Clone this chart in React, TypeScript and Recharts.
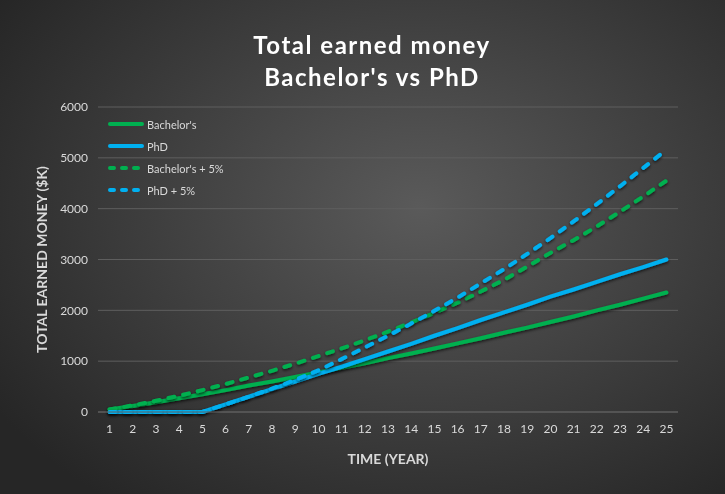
import { CartesianGrid, Line, LineChart, XAxis, YAxis } from 'recharts'

const years = Array.from({ length: 25 }, (_, i) => i + 1)

const bachelors = [
  50, 120, 190, 270, 350, 430, 520, 600, 690, 780, 870, 960, 1060, 1150, 1250,
  1350, 1450, 1560, 1660, 1770, 1880, 2000, 2110, 2230, 2350,
]
const phd = [
  0, 0, 0, 0, 0, 150, 300, 450, 600, 750, 890, 1040, 1190, 1340, 1500, 1650,
  1810, 1960, 2110, 2270, 2410, 2560, 2710, 2850, 3000,
]
const bachelors5 = [
  50, 130, 220, 320, 430, 550, 680, 810, 950, 1100, 1250, 1410, 1580, 1760,
  1950, 2150, 2370, 2600, 2860, 3130, 3380, 3650, 3940, 4240, 4550,
]
const phd5 = [
  0, 0, 0, 0, 0, 150, 300, 460, 630, 820, 1040, 1270, 1500, 1740, 1990, 2250,
  2530, 2810, 3110, 3420, 3750, 4090, 4440, 4800, 5160,
]

const yTicks = [0, 1000, 2000, 3000, 4000, 5000, 6000]

const GREEN = '#00b050'
const BLUE = '#00b0f0'
const TEXT = '#d9d9d9'
const GRID = '#5e5e5e'
const FONT = 'Lato, "Open Sans", sans-serif'

const series = [
  { key: 'bachelors', name: "Bachelor's", color: GREEN, dashed: false },
  { key: 'phd', name: 'PhD', color: BLUE, dashed: false },
  { key: 'bachelors5', name: "Bachelor's + 5%", color: GREEN, dashed: true },
  { key: 'phd5', name: 'PhD + 5%', color: BLUE, dashed: true },
]

const data = years.map((year, i) => ({
  year,
  bachelors: bachelors[i],
  phd: phd[i],
  bachelors5: bachelors5[i],
  phd5: phd5[i],
}))

// legend drawn inside the plot, top-left, like the Excel original
function ChartLegend() {
  return (
    <g>
      {series.map((s, i) => {
        const y = 124 + i * 22
        return (
          <g key={s.key}>
            <line
              x1={110}
              x2={142}
              y1={y}
              y2={y}
              stroke={s.color}
              strokeWidth={4}
              strokeLinecap="round"
              strokeDasharray={s.dashed ? '4 8' : undefined}
            />
            <text
              x={147}
              y={y}
              dominantBaseline="central"
              fill={TEXT}
              fontSize={11}
              fontFamily={FONT}
            >
              {s.name}
            </text>
          </g>
        )
      })}
    </g>
  )
}

export default function App() {
  return (
    <div
      style={{
        position: 'fixed',
        left: 0,
        top: 0,
        width: 725,
        height: 494,
        background:
          'radial-gradient(ellipse 70% 75% at 58% 42%, #5a5a5a 0%, #404040 50%, #262626 100%)',
      }}
    >
      <LineChart
        width={725}
        height={494}
        data={data}
        margin={{ top: 107, right: 47, bottom: 0, left: 0 }}
      >
        <defs>
          <filter id="shadow" x="-10%" y="-10%" width="120%" height="130%">
            <feDropShadow dx="0" dy="1.5" stdDeviation="1.5" floodColor="#000" floodOpacity="0.7" />
          </filter>
        </defs>
        <text
          x={372}
          y={44}
          textAnchor="middle"
          dominantBaseline="central"
          fill="#ffffff"
          fontSize={24}
          fontWeight={700}
          letterSpacing={1.5}
          fontFamily={FONT}
        >
          Total earned money
        </text>
        <text
          x={372}
          y={76}
          textAnchor="middle"
          dominantBaseline="central"
          fill="#ffffff"
          fontSize={24}
          fontWeight={700}
          letterSpacing={1.5}
          fontFamily={FONT}
        >
          Bachelor's vs PhD
        </text>
        <CartesianGrid vertical={false} stroke={GRID} />
        <XAxis
          dataKey="year"
          type="number"
          domain={[0.5, 25.5]}
          ticks={years}
          interval={0}
          height={82}
          tickLine={false}
          axisLine={{ stroke: GRID }}
          tickMargin={6}
          tick={{ fill: TEXT, fontSize: 12, fontFamily: FONT }}
          label={({ viewBox }: any) => (
            <text
              x={viewBox.x + viewBox.width / 2}
              y={viewBox.y + 46}
              textAnchor="middle"
              dominantBaseline="central"
              fill={TEXT}
              fontSize={14}
              fontWeight={700}
              fontFamily={FONT}
            >
              TIME (YEAR)
            </text>
          )}
        />
        <YAxis
          width={98}
          domain={[0, 6000]}
          ticks={yTicks}
          tickLine={false}
          axisLine={false}
          tickSize={0}
          tickMargin={10}
          tick={{ fill: TEXT, fontSize: 12, fontFamily: FONT }}
          label={({ viewBox }: any) => {
            const cx = viewBox.x + 41
            const cy = viewBox.y + viewBox.height / 2
            return (
              <text
                x={cx}
                y={cy}
                transform={`rotate(-90, ${cx}, ${cy})`}
                textAnchor="middle"
                dominantBaseline="central"
                fill={TEXT}
                fontSize={14}
                fontWeight={700}
                fontFamily={FONT}
              >
                TOTAL EARNED MONEY ($K)
              </text>
            )
          }}
        />
        {series.map((s) => (
          <Line
            key={s.key}
            dataKey={s.key}
            name={s.name}
            stroke={s.color}
            strokeWidth={4}
            strokeDasharray={s.dashed ? '6 9' : undefined}
            strokeLinecap="round"
            dot={false}
            activeDot={false}
            type="linear"
            filter="url(#shadow)"
            isAnimationActive={false}
          />
        ))}
        <ChartLegend />
      </LineChart>
    </div>
  )
}
